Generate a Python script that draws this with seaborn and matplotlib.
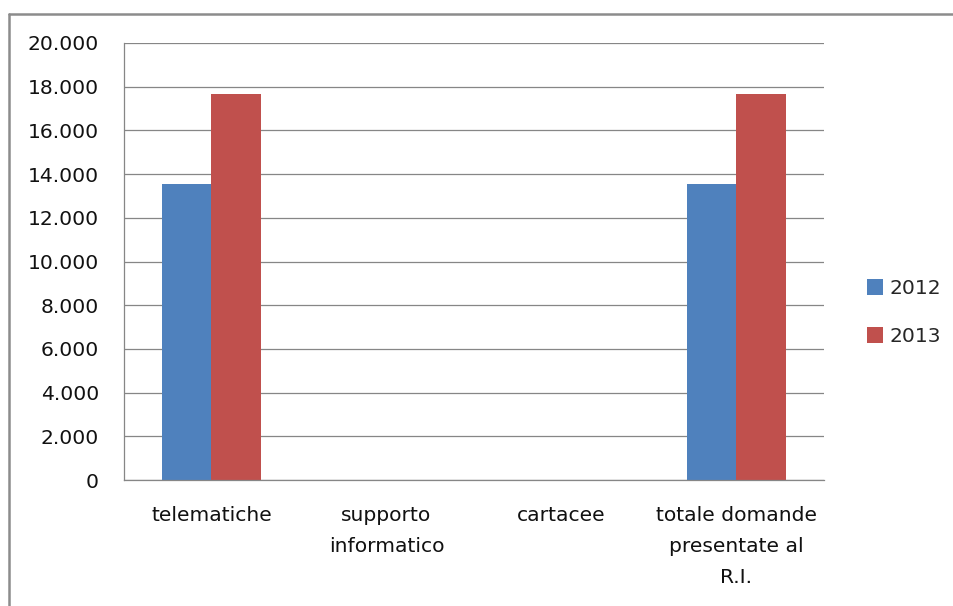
import matplotlib
matplotlib.use("Agg")
import matplotlib.pyplot as plt
import matplotlib.ticker as mticker
from matplotlib.lines import Line2D
from matplotlib.patches import Patch
import pandas as pd
import seaborn as sns

# Domande presentate al Registro Imprese, per tipo di invio
categories = ["telematiche", "supporto\ninformatico", "cartacee",
              "totale domande\npresentate al\nR.I."]
years = ["2012", "2013"]
values_2012 = [13560, 0, 0, 13560]
values_2013 = [17670, 0, 0, 17670]
y_ticks = list(range(0, 20001, 2000))

colors = {"2012": "#4F81BD", "2013": "#C0504D"}
grid_col = "#868686"
font = ["DejaVu Sans"]
fs = 14.6

df = pd.DataFrame({
    "categoria": categories * 2,
    "anno": ["2012"] * 4 + ["2013"] * 4,
    "domande": values_2012 + values_2013,
})

sns.set_theme(style="white")
plt.rcParams["font.family"] = font
plt.rcParams["font.size"] = fs

fig = plt.figure(figsize=(9.54, 6.06), dpi=100)
ax = fig.add_axes([124 / 954, 1 - 480 / 606, 700 / 954, 437 / 606])

sns.barplot(data=df, x="categoria", y="domande", hue="anno", order=categories,
            hue_order=years, palette=colors, width=0.571, gap=0,
            saturation=1, ax=ax, legend=False, linewidth=0)

ax.set_xlim(-0.5, 3.5)
ax.set_ylim(0, 20000)
ax.set_yticks(y_ticks)
ax.yaxis.set_major_formatter(
    mticker.FuncFormatter(lambda v, p: f"{int(v):,}".replace(",", ".")))
ax.set_xlabel("")
ax.set_ylabel("")

ax.grid(axis="y", color=grid_col, linewidth=0.9)
ax.set_axisbelow(True)
for side in ("top", "right"):
    ax.spines[side].set_visible(False)
for side in ("left", "bottom"):
    ax.spines[side].set_color(grid_col)
    ax.spines[side].set_linewidth(0.9)

ax.tick_params(axis="y", length=8, width=0.9, color=grid_col, pad=10,
               labelsize=fs, labelcolor="#111111")
ax.tick_params(axis="x", which="major", length=0, pad=19, labelsize=fs,
               labelcolor="#111111")
ax.set_xticks([-0.5, 0.5, 1.5, 2.5, 3.5], minor=True)
ax.tick_params(axis="x", which="minor", length=9, width=0.9, color=grid_col,
               direction="out")
for lbl in ax.get_xticklabels():
    lbl.set_linespacing(1.78)

handles = [Patch(facecolor=colors[y], edgecolor="none") for y in years]
fig.legend(handles, years, loc="center left",
           bbox_to_anchor=(867 / 954, 1 - 312.5 / 606), frameon=False,
           fontsize=fs, handlelength=0.8, handleheight=0.8, handletextpad=0.3,
           labelspacing=1.42, borderpad=0, borderaxespad=0)

# Chart-area frame (top and left edges)
fig.add_artist(Line2D([9 / 954, 1.0], [1 - 13.5 / 606] * 2,
                      transform=fig.transFigure, color="#8c8c8c", linewidth=1.8))
fig.add_artist(Line2D([9 / 954] * 2, [0.0, 1 - 13.5 / 606],
                      transform=fig.transFigure, color="#8c8c8c", linewidth=1.8))

fig.savefig("out.png", dpi=100, facecolor="white")
